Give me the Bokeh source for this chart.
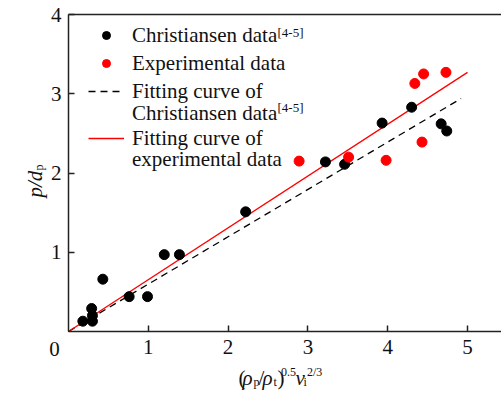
import math
from bokeh.plotting import figure
from bokeh.models import (FixedTicker, Label, Legend, LegendItem, LinearAxis, Range1d)
from bokeh.embed import file_html
from bokeh.resources import INLINE

# ---------------- data ----------------
chr_x = [0.18, 0.29, 0.30, 0.30, 0.43, 0.76, 0.99, 1.20, 1.39, 2.22,
         3.22, 3.46, 3.93, 4.30, 4.67, 4.74]
chr_y = [0.13, 0.29, 0.20, 0.13, 0.66, 0.44, 0.44, 0.97, 0.97, 1.51,
         2.14, 2.11, 2.63, 2.83, 2.62, 2.53]
exp_x = [2.89, 3.51, 3.98, 4.43, 4.34, 4.45, 4.73]
exp_y = [2.15, 2.20, 2.16, 2.39, 3.13, 3.25, 3.27]
fit_chr_x = [0.0, 4.92]
fit_chr_y = [0.0, 2.94]
fit_exp_x = [0.0, 5.0]
fit_exp_y = [0.0, 3.27]
x_ticks = [1, 2, 3, 4, 5]
y_ticks = [1, 2, 3, 4]

FONT = "Liberation Serif"
FSZ = 21
FS = f"{FSZ}px"
SUB = 12
W, H = 501, 394
# pixel geometry of the axes box inside the canvas
AX_L, AX_T, AX_B = 68, 14, 331
XPU = 79.8      # pixels per x unit
YPU = 79.25     # pixels per y unit
XMAX, YMAX = 5.426, 4.0

x0 = -AX_L / XPU
x1 = (W - AX_L) / XPU
y0 = -(H - AX_B) / YPU
y1 = AX_B / YPU

p = figure(width=W, height=H, output_backend="svg", toolbar_location=None,
           x_range=Range1d(x0, x1), y_range=Range1d(y0, y1),
           min_border=0, x_axis_location=None, y_axis_location=None)
p.outline_line_color = None
p.grid.visible = False
p.background_fill_color = "white"

xax = LinearAxis(ticker=FixedTicker(ticks=x_ticks), fixed_location=0, bounds=(0, XMAX))
yax = LinearAxis(ticker=FixedTicker(ticks=y_ticks), fixed_location=0, bounds=(0, YMAX))
tax = LinearAxis(ticker=FixedTicker(ticks=[]), fixed_location=YMAX, bounds=(0, XMAX))
for ax in (xax, yax, tax):
    ax.axis_line_color = "#222222"
    ax.axis_line_width = 1.5
    ax.major_tick_line_color = "#222222"
    ax.major_tick_line_width = 1.5
    ax.major_tick_in = 6
    ax.major_tick_out = 0
    ax.minor_tick_line_color = None
    ax.major_label_text_font = FONT
    ax.major_label_text_font_size = FS
    ax.major_label_text_color = "#111111"
xax.major_label_standoff = 8
yax.major_label_standoff = 7
p.add_layout(xax, "below")
p.add_layout(yax, "left")
p.add_layout(tax, "above")

r_fc = p.line(fit_chr_x, fit_chr_y, line_color="black", line_width=1.3, line_dash="7 5")
r_fe = p.line(fit_exp_x, fit_exp_y, line_color="#ff0000", line_width=1.3)
r_c = p.scatter(chr_x, chr_y, size=10, fill_color="black", line_color="black")
r_e = p.scatter(exp_x, exp_y, size=10, fill_color="#ff0000", line_color="#ff0000")

# text placed in canvas pixels (frame == canvas): x from left, y from bottom
def lab(text, px, py, size, italic=False, align="left", baseline="alphabetic", angle=0.0):
    p.add_layout(Label(x=px, y=H - py, x_units="screen", y_units="screen",
                       text=text, text_font=FONT,
                       text_font_size=f"{size}px", text_color="#111111",
                       text_font_style="italic" if italic else "normal",
                       text_align=align, text_baseline=baseline, angle=angle))

# legend
leg_common = dict(margin=0, padding=0, border_line_color=None, background_fill_alpha=0,
                  label_text_font=FONT, label_text_font_size=FS, label_text_color="#111111",
                  glyph_width=36, glyph_height=20, label_height=28, spacing=0, label_standoff=8)
legA = Legend(items=[LegendItem(label="Christiansen data", renderers=[r_c]),
                     LegendItem(label="Experimental data", renderers=[r_e]),
                     LegendItem(label="Fitting curve of", renderers=[r_fc])],
              location=(88, H - 105), **leg_common)
legB = Legend(items=[LegendItem(label="Fitting curve of", renderers=[r_fe])],
              location=(88, H - 152), **leg_common)
p.add_layout(legA)
p.add_layout(legB)
lab("Christiansen data", 131.5, 112, FSZ, baseline="middle")
lab("experimental data", 131.5, 158, FSZ, baseline="middle")
lab("[4-5]", 277, 24, 13, baseline="top")
lab("[4-5]", 277, 99, 13, baseline="top")

# origin label
lab("0", 54, 348, FSZ, align="center", baseline="middle")

# x axis title pieces
xb, xs, xp = 377, 381, 371
lab("(", 238, xb, FSZ)
lab("\u03c1", 242, xb, FSZ, italic=True)
lab("p", 253, xs, SUB)
lab("/", 258, xb, FSZ)
lab("\u03c1", 262, xb, FSZ, italic=True)
lab("t", 273, xs, SUB)
lab(")", 277, xb, FSZ)
lab("0.5", 280.5, xp, SUB)
lab("v", 295, xb, FSZ, italic=True)
lab("i", 303, xs, SUB)
lab("2/3", 306.5, xp, SUB)

# y axis title pieces (rotated)
lab("p/d", 34, 197, FSZ, italic=True, angle=math.pi / 2)
lab("p", 38, 170, SUB, angle=math.pi / 2)

open("out.html", "w").write(file_html(p, INLINE))
